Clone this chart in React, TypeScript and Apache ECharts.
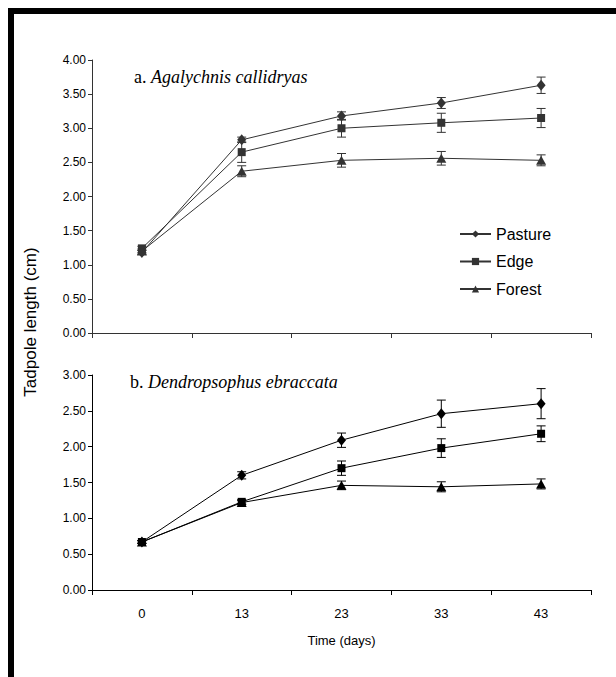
import React, { useEffect, useRef } from "react";
import * as echarts from "echarts";

const days = ["0", "13", "23", "33", "43"];
const seriesNames = ["Pasture", "Edge", "Forest"];
const symbols = ["diamond", "rect", "triangle"];

// a. Agalychnis callidryas
const pastureA = [1.18, 2.83, 3.18, 3.37, 3.63];
const pastureAErr = [0.03, 0.04, 0.06, 0.08, 0.12];
const edgeA = [1.24, 2.65, 3.0, 3.08, 3.15];
const edgeAErr = [0.03, 0.15, 0.13, 0.14, 0.14];
const forestA = [1.2, 2.37, 2.53, 2.56, 2.53];
const forestAErr = [0.03, 0.08, 0.1, 0.1, 0.08];

// b. Dendropsophus ebraccata
const pastureB = [0.67, 1.6, 2.09, 2.46, 2.6];
const pastureBErr = [0.02, 0.05, 0.1, 0.19, 0.21];
const edgeB = [0.67, 1.23, 1.7, 1.98, 2.18];
const edgeBErr = [0.02, 0.03, 0.1, 0.13, 0.11];
const forestB = [0.67, 1.22, 1.46, 1.44, 1.48];
const forestBErr = [0.02, 0.03, 0.06, 0.07, 0.07];

const yTicksA = [0, 0.5, 1, 1.5, 2, 2.5, 3, 3.5, 4];
const yTicksB = [0, 0.5, 1, 1.5, 2, 2.5, 3];

const SANS = '"Liberation Sans", Arial, sans-serif';
const SERIF = '"Liberation Serif", "Times New Roman", serif';

export default function App() {
  const ref = useRef<HTMLDivElement>(null);
  useEffect(() => {
    if (!ref.current) return;
    const chart = echarts.init(ref.current, null, { renderer: "svg" });

    const groupsA = [
      [pastureA, pastureAErr],
      [edgeA, edgeAErr],
      [forestA, forestAErr],
    ];
    const groupsB = [
      [pastureB, pastureBErr],
      [edgeB, edgeBErr],
      [forestB, forestBErr],
    ];
    const colA = "#333333";
    const colB = "#000000";
    const symSizes: any[] = [[9, 11], 8, [10, 9]];

    const errRender = (color: string) => (params: any, api: any) => {
      const x = api.value(0);
      const lo = api.coord([x, api.value(1)]);
      const hi = api.coord([x, api.value(2)]);
      const hw = 4.5;
      const st = { stroke: color, lineWidth: 1 };
      return {
        type: "group",
        children: [
          { type: "line", shape: { x1: lo[0], y1: lo[1], x2: hi[0], y2: hi[1] }, style: st },
          { type: "line", shape: { x1: lo[0] - hw, y1: lo[1], x2: lo[0] + hw, y2: lo[1] }, style: st },
          { type: "line", shape: { x1: hi[0] - hw, y1: hi[1], x2: hi[0] + hw, y2: hi[1] }, style: st },
        ],
      };
    };

    const series: any[] = [];
    const build = (groups: any[], idx: number, color: string) => {
      groups.forEach((g, i) => {
        const vals = g[0] as number[];
        const errs = g[1] as number[];
        series.push({
          type: "custom",
          xAxisIndex: idx,
          yAxisIndex: idx,
          renderItem: errRender(color),
          encode: { x: 0, y: [1, 2] },
          data: vals.map((v, k) => [k, +(v - errs[k]).toFixed(3), +(v + errs[k]).toFixed(3)]),
          silent: true,
          z: 1,
        });
        series.push({
          type: "line",
          name: seriesNames[i],
          xAxisIndex: idx,
          yAxisIndex: idx,
          data: vals,
          symbol: symbols[i],
          symbolSize: symSizes[i],
          showSymbol: true,
          lineStyle: { color, width: 1 },
          itemStyle: { color, borderWidth: 0 },
          z: 2,
        });
      });
    };
    build(groupsA, 0, colA);
    build(groupsB, 1, colB);

    const xAxisBase = (showLabels: boolean, color: string, idx: number) => ({
      type: "category",
      gridIndex: idx,
      data: days,
      boundaryGap: true,
      axisLine: { lineStyle: { color, width: 1 } },
      axisTick: { show: true, inside: false, length: 5, lineStyle: { color } },
      axisLabel: {
        show: showLabels,
        color: "#000",
        fontFamily: SANS,
        fontSize: 13,
        margin: 17,
      },
      name: showLabels ? "Time (days)" : "",
      nameLocation: "middle",
      nameGap: 44,
      nameTextStyle: { color: "#000", fontFamily: SANS, fontSize: 13 },
    });
    const yAxisBase = (max: number, color: string, idx: number) => ({
      type: "value",
      gridIndex: idx,
      min: 0,
      max,
      interval: 0.5,
      splitLine: { show: false },
      axisLine: { show: true, lineStyle: { color, width: 1 } },
      axisTick: { show: true, inside: false, length: 4, lineStyle: { color } },
      axisLabel: {
        color: "#000",
        fontFamily: SANS,
        fontSize: 12,
        margin: 6,
        formatter: (v: number) => v.toFixed(2),
      },
    });

    chart.setOption({
      animation: false,
      backgroundColor: "#ffffff",
      grid: [
        { left: 92, top: 60, width: 499, height: 273 },
        { left: 92, top: 375, width: 499, height: 215 },
      ],
      xAxis: [xAxisBase(false, colA, 0), xAxisBase(true, colB, 1)],
      yAxis: [
        { ...yAxisBase(yTicksA[yTicksA.length - 1], colA, 0) },
        { ...yAxisBase(yTicksB[yTicksB.length - 1], colB, 1) },
      ],
      legend: {
        data: seriesNames,
        orient: "vertical",
        left: 454,
        top: 221,
        itemWidth: 31,
        itemHeight: 9,
        itemGap: 11.5,
        textStyle: { color: "#000", fontFamily: SANS, fontSize: 16, padding: [0, 0, 0, 0] },
        selectedMode: false,
      },
      graphic: [
        { type: "rect", shape: { x: 8, y: 8, width: 608, height: 6 }, style: { fill: "#000" } },
        { type: "rect", shape: { x: 8, y: 8, width: 6, height: 669 }, style: { fill: "#000" } },
        {
          type: "text",
          x: 30,
          y: 322,
          rotation: Math.PI / 2,
          style: {
            text: "Tadpole length (cm)",
            fill: "#000",
            font: `17px ${SANS}`,
            align: "center",
            verticalAlign: "middle",
          },
        },
        {
          type: "text",
          x: 134,
          y: 77,
          style: {
            text: "{n|a. }{i|Agalychnis callidryas}",
            fill: "#000",
            verticalAlign: "middle",
            rich: {
              n: { fontFamily: SERIF, fontSize: 18, fill: "#000" },
              i: { fontFamily: SERIF, fontSize: 18, fontStyle: "italic", fill: "#000" },
            },
          },
        },
        {
          type: "text",
          x: 130,
          y: 382,
          style: {
            text: "{n|b. }{i|Dendropsophus ebraccata}",
            fill: "#000",
            verticalAlign: "middle",
            rich: {
              n: { fontFamily: SERIF, fontSize: 18, fill: "#000" },
              i: { fontFamily: SERIF, fontSize: 18, fontStyle: "italic", fill: "#000" },
            },
          },
        },
      ],
      series,
    });
    return () => chart.dispose();
  }, []);
  return (
    <div
      ref={ref}
      style={{ position: "absolute", left: 0, top: 0, width: 616, height: 677, background: "#fff" }}
    />
  );
}
